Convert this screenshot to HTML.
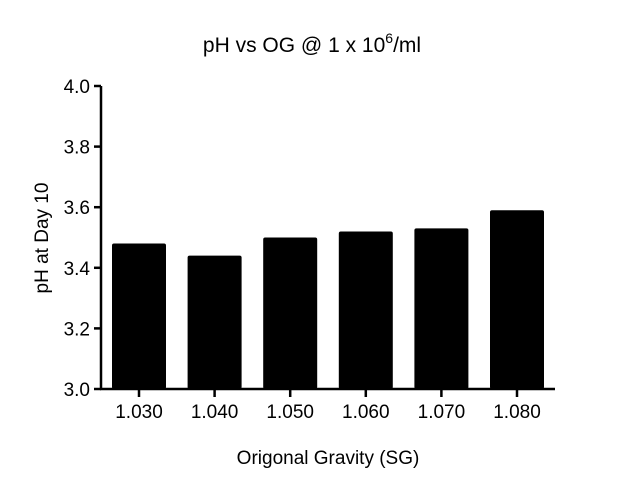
<!DOCTYPE html>
<html><head><meta charset="utf-8"><style>
body{margin:0;background:#fff;}
svg text{font-family:"Liberation Sans",Arial,sans-serif;fill:#000;}
</style></head><body>
<svg width="624" height="491">
<text x="312" y="52" font-size="21" text-anchor="middle">pH vs OG @ 1 x 10<tspan font-size="14" dy="-9">6</tspan><tspan dy="9">/ml</tspan></text>
<text transform="translate(48,238) rotate(-90)" font-size="19" text-anchor="middle">pH at Day 10</text>
<text x="328" y="464" font-size="19" text-anchor="middle">Origonal Gravity (SG)</text>
<g id="bars"></g>
<g id="axes"></g>
</svg>
<script>
const categories=["1.030","1.040","1.050","1.060","1.070","1.080"];
const values=[3.48,3.44,3.50,3.52,3.53,3.59];
const yTicks=[3.0,3.2,3.4,3.6,3.8,4.0];
const y=v=>389-(v-3.0)*303;
const x=i=>139+i*75.6;
const NS="http://www.w3.org/2000/svg";
const bars=document.getElementById('bars'),axes=document.getElementById('axes');
function mk(t,a,p){const e=document.createElementNS(NS,t);for(const k in a)e.setAttribute(k,a[k]);p.appendChild(e);return e;}
values.forEach((v,i)=>{
 const r=mk('rect',{x:x(i)-27,y:y(v),width:54,height:389-y(v),fill:'#000',rx:2},bars);
 
 
});
const ya=mk('line',{x1:101,y1:86,x2:101,y2:390,stroke:'#000','stroke-width':2.5},axes);


const xa=mk('line',{x1:100,y1:389,x2:555,y2:389,stroke:'#000','stroke-width':2.5},axes);


yTicks.forEach(t=>{
 mk('line',{x1:94,y1:y(t),x2:101,y2:y(t),stroke:'#000','stroke-width':2.5},axes);
 const l=mk('text',{x:90,y:y(t)+7,'font-size':19,'text-anchor':'end'},axes);
 l.textContent=t.toFixed(1);
 
 
});
categories.forEach((c,i)=>{
 mk('line',{x1:x(i),y1:389,x2:x(i),y2:397,stroke:'#000','stroke-width':2.5},axes);
 const l=mk('text',{x:x(i),y:418,'font-size':19,'text-anchor':'middle'},axes);
 l.textContent=c;
 
 
});
</script>
</body></html>
